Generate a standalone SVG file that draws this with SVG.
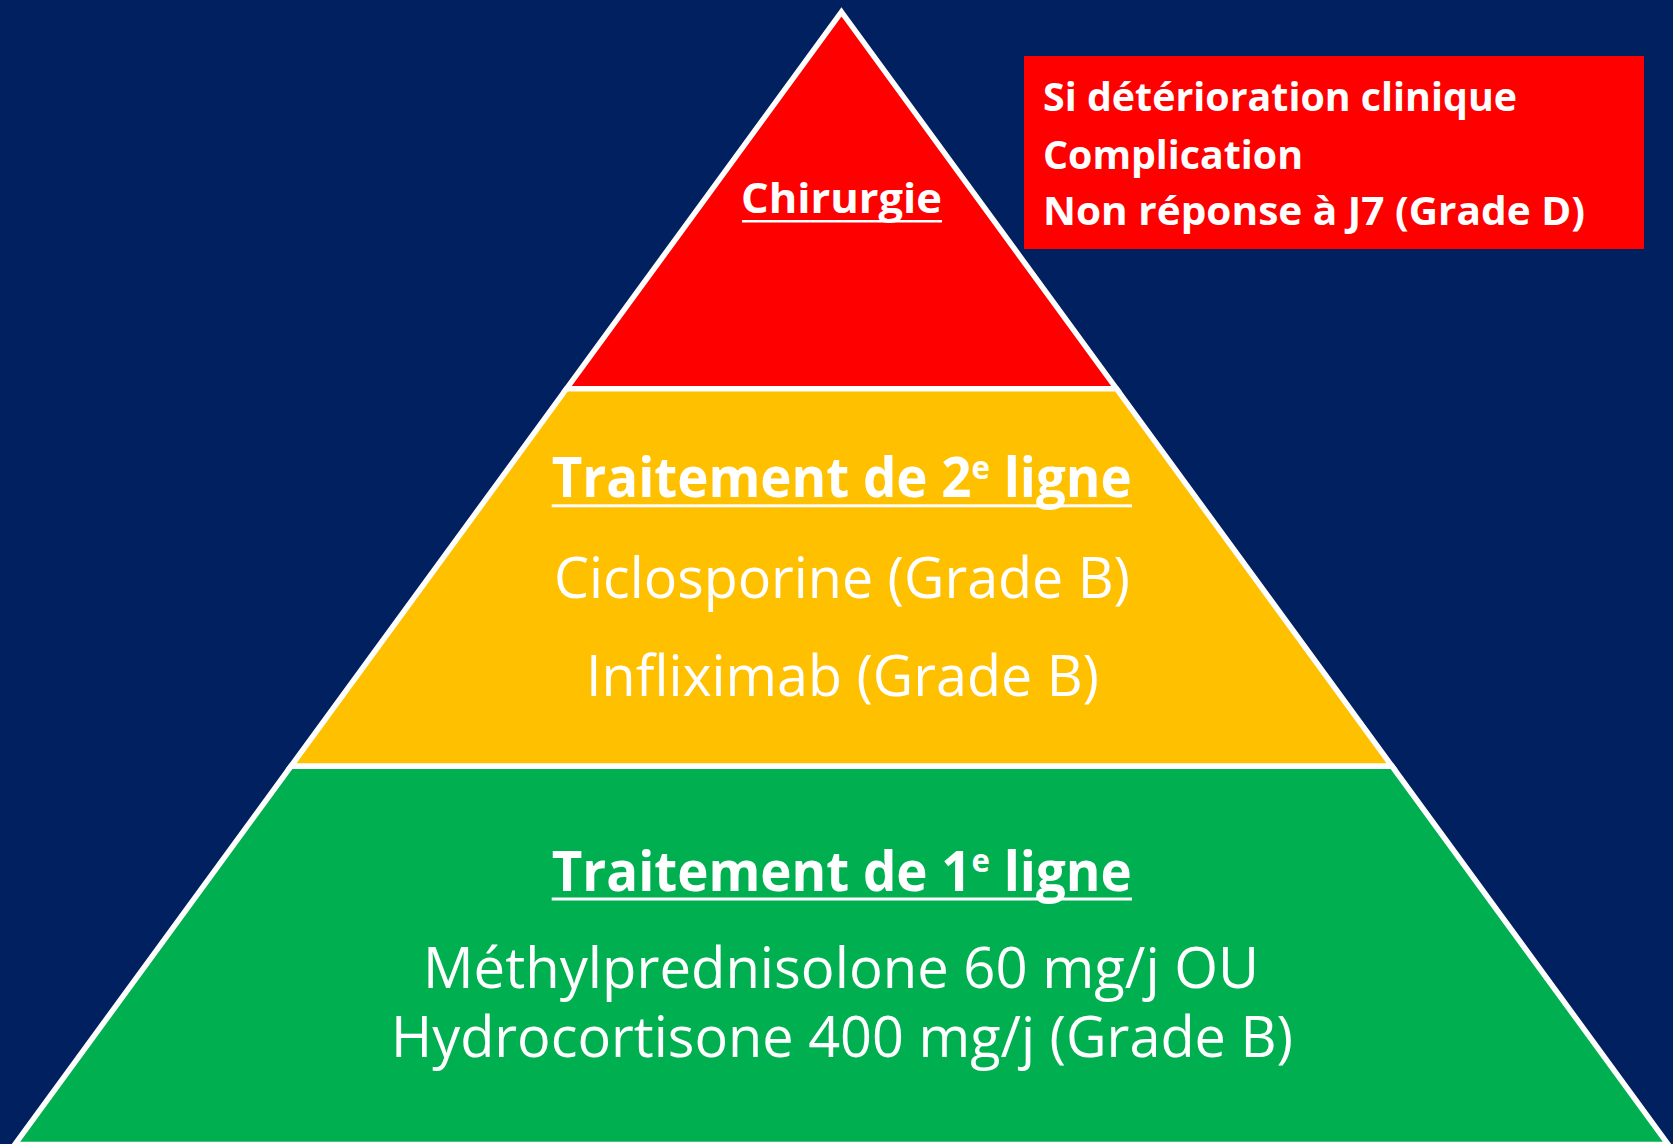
<svg xmlns="http://www.w3.org/2000/svg" width="1673" height="1144" viewBox="0 0 1673 1144">
<style>
.lvl{stroke:#FFFFFF;stroke-width:5.5;stroke-linejoin:miter}
.t{font-family:"Open Sans","Liberation Sans",sans-serif;fill:#FFFFFF}
.b{font-weight:700}
.ul{fill:#FFFFFF}
</style>
<rect x="0" y="0" width="1673" height="1144" fill="#002060"/>
<g id="connectors"></g>
<g id="level-top">
<polygon class="lvl" fill="#FF0000" points="841.5,12 1116.5,388.7 566.5,388.7"/>
<text class="t b" x="741" y="213" font-size="42" textLength="201" lengthAdjust="spacingAndGlyphs">Chirurgie</text>
<rect class="ul" x="742" y="220" width="200" height="2.5"/>
</g>
<g id="level-middle">
<polygon class="lvl" fill="#FFC000" points="566.5,388.7 1116.5,388.7 1392.1,766.3 290.9,766.3"/>
<text class="t b" x="551.7" y="497.3" font-size="56" textLength="580" lengthAdjust="spacingAndGlyphs">Traitement de 2<tspan font-size="33" dy="-18.3">e</tspan><tspan dy="18.3"> ligne</tspan></text>
<rect class="ul" x="551.7" y="504.3" width="580.3" height="3"/>
<text class="t" x="554" y="598" font-size="56" textLength="576" lengthAdjust="spacingAndGlyphs">Ciclosporine (Grade B)</text>
<text class="t" x="586" y="696" font-size="56" textLength="513" lengthAdjust="spacingAndGlyphs">Infliximab (Grade B)</text>
</g>
<g id="level-bottom">
<polygon class="lvl" fill="#00B050" points="290.9,766.3 1392.1,766.3 1668.2,1144.5 14.8,1144.5"/>
<text class="t b" x="551.7" y="890.5" font-size="56" textLength="580" lengthAdjust="spacingAndGlyphs">Traitement de 1<tspan font-size="33" dy="-18.3">e</tspan><tspan dy="18.3"> ligne</tspan></text>
<rect class="ul" x="551.7" y="897.5" width="580.3" height="3"/>
<text class="t" x="423" y="987.5" font-size="56" textLength="836" lengthAdjust="spacingAndGlyphs">Méthylprednisolone 60 mg/j OU</text>
<text class="t" x="391" y="1057" font-size="56" textLength="902" lengthAdjust="spacingAndGlyphs">Hydrocortisone 400 mg/j (Grade B)</text>
</g>
<g id="note-box">
<rect x="1024" y="56" width="620" height="193" fill="#FF0000"/>
<text class="t b" x="1043" y="111" font-size="39" textLength="474" lengthAdjust="spacingAndGlyphs">Si détérioration clinique</text>
<text class="t b" x="1043" y="169" font-size="39" textLength="260" lengthAdjust="spacingAndGlyphs">Complication</text>
<text class="t b" x="1043" y="225" font-size="39" textLength="542" lengthAdjust="spacingAndGlyphs">Non réponse à J7 (Grade D)</text>
</g>
</svg>
